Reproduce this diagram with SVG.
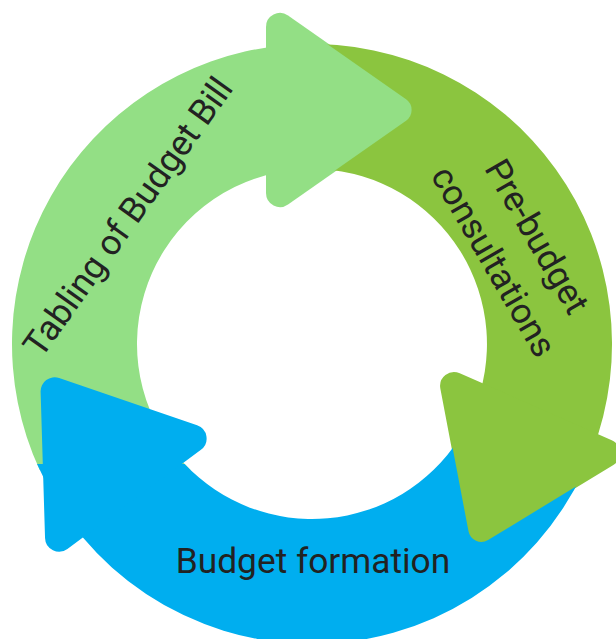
<svg xmlns="http://www.w3.org/2000/svg" width="616" height="639" viewBox="0 0 616 639">
<style>
.lg{fill:#93DF85}
.dg{fill:#8BC53F}
.bl{fill:#00AEEF}
.lbl{font-family:Roboto,"Liberation Sans",sans-serif;font-size:35.3px;fill:#222;text-anchor:middle}
</style>
<defs>
<path id="head-lg" d="M288.03,15.44 L406.64,98.54 A14,14 0 0 1 406.64,121.46 L288.03,204.56 A14,14 0 0 1 266,193.1 L266,26.9 A14,14 0 0 1 288.03,15.44 Z"/>
<path id="head-dg" d="M459.77,373.23 L611.74,440.18 A14,14 0 0 1 613.37,464.95 L488.57,540.89 A14,14 0 0 1 467.53,531.55 L440.37,388.66 A14,14 0 0 1 459.77,373.23 Z"/>
<path id="head-bl" d="M59.13,378.04 L197.12,425.19 A14,14 0 0 1 200.94,449.67 L67.39,548.9 A14,14 0 0 1 45.04,538.08 L40.61,391.71 A14,14 0 0 1 59.13,378.04 Z"/>
<mask id="not-lg" maskUnits="userSpaceOnUse" x="0" y="0" width="616" height="639">
<rect width="616" height="639" fill="#fff"/>
<use href="#head-lg" fill="#000" stroke="#fff" stroke-width="2"/>
</mask>
<mask id="not-dg" maskUnits="userSpaceOnUse" x="0" y="0" width="616" height="639">
<rect width="616" height="639" fill="#fff"/>
<use href="#head-dg" fill="#000" stroke="#fff" stroke-width="2"/>
</mask>
</defs>
<g id="node-tabling">
<path class="lg" d="M39.74,470 A300,300 0 0 1 280,45.71 L280,171.95 A175,175 0 0 0 190.55,470 Z"/>
<use href="#head-lg" class="lg"/>
<text class="lbl" transform="translate(137.8,223.8) rotate(-54.5)" x="0" y="0">Tabling of Budget Bill</text>
</g>
<g id="node-prebudget">
<path class="dg" mask="url(#not-lg)" d="M300,44.24 A300,300 0 0 1 592.1,451.5 L480.2,392.2 A175,175 0 0 0 300,169.41 Z"/>
<use href="#head-dg" class="dg"/>
<text class="lbl" transform="translate(505,255) rotate(60)"><tspan x="0" y="-25">Pre-budget</tspan><tspan x="0" y="25">consultations</tspan></text>
</g>
<g id="node-formation">
<path class="bl" mask="url(#not-dg)" d="M583.9,470.8 A300,300 0 0 1 37.05,464 L184.62,464 A175,175 0 0 0 458.8,439.3 Z"/>
<use href="#head-bl" class="bl"/>
<text class="lbl" x="313" y="573">Budget formation</text>
</g>
<g id="connectors"/>
</svg>
